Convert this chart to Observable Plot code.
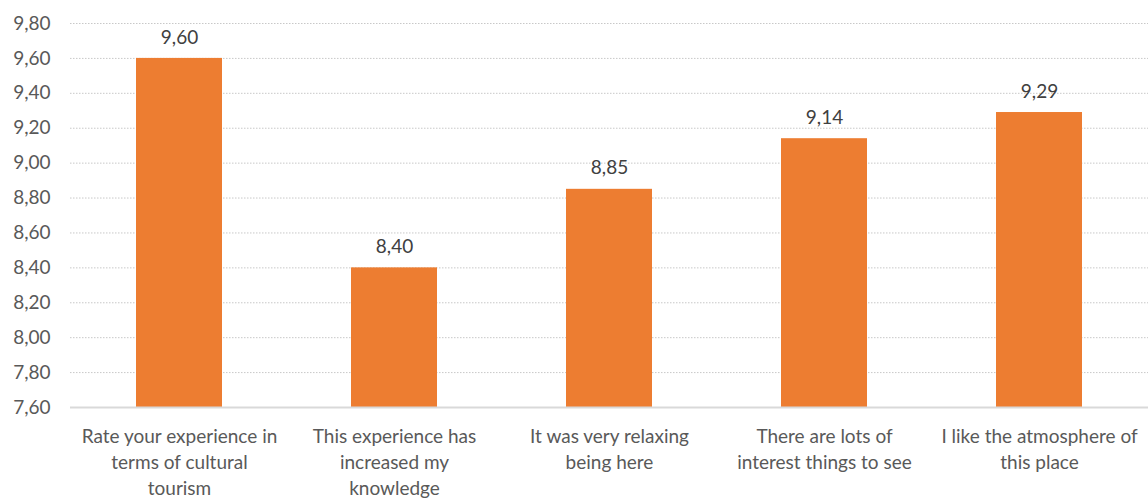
<!DOCTYPE html>
<html>
<head>
<meta charset="utf-8">
<script src="https://cdn.jsdelivr.net/npm/d3@7"></script>
<script src="https://cdn.jsdelivr.net/npm/@observablehq/plot@0.6"></script>
<style>
  html, body { margin: 0; padding: 0; background: #fff; }
  #chart svg { display: block; }
</style>
</head>
<body>
<div id="chart"></div>
<script>
const categories = [
  "Rate your experience in\nterms of cultural\ntourism",
  "This experience has\nincreased my\nknowledge",
  "It was very relaxing\nbeing here",
  "There are lots of\ninterest things to see",
  "I like the atmosphere of\nthis place"
];
const values = [9.60, 8.40, 8.85, 9.14, 9.29];
const yTicks = [7.6, 7.8, 8.0, 8.2, 8.4, 8.6, 8.8, 9.0, 9.2, 9.4, 9.6, 9.8];
const yMin = 7.6, yMax = 9.8;

const fmt = v => d3.format(".2f")(v).replace(".", ",");
const data = categories.map((c, i) => ({category: c, value: values[i]}));

const chart = Plot.plot({
  width: 1148,
  height: 498,
  marginLeft: 70,
  marginRight: 0,
  marginTop: 23,
  marginBottom: 91,
  style: {fontFamily: "Lato, 'Open Sans', sans-serif", fontSize: "18px", color: "#595959", background: "#fff"},
  x: {domain: categories, paddingInner: 0.6, paddingOuter: 0.3, align: 0.5},
  y: {domain: [yMin, yMax]},
  marks: [
    Plot.gridY(yTicks.filter(t => t !== yMin), {stroke: "#c8c8c8", strokeOpacity: 1, strokeDasharray: "1.5,1.5", strokeWidth: 1}),
    Plot.barY(data, {x: "category", y1: yMin, y2: "value", fill: "#ED7D31"}),
    Plot.ruleY([yMin], {stroke: "#d9d9d9", strokeWidth: 2}),
    Plot.text(data, {x: "category", y: "value", text: d => fmt(d.value), dy: -21, fill: "#404040", fontSize: 19}),
    Plot.axisY(yTicks, {tickSize: 0, tickPadding: 20, tickFormat: fmt, label: null, fill: "#595959", fontSize: 19}),
    Plot.axisX({tickSize: 0, tickPadding: 17, label: null, fill: "#595959", fontSize: 19, lineHeight: 1.37, lineAnchor: "top", letterSpacing: "0.4px"})
  ]
});
document.getElementById("chart").appendChild(chart);
</script>
</body>
</html>
